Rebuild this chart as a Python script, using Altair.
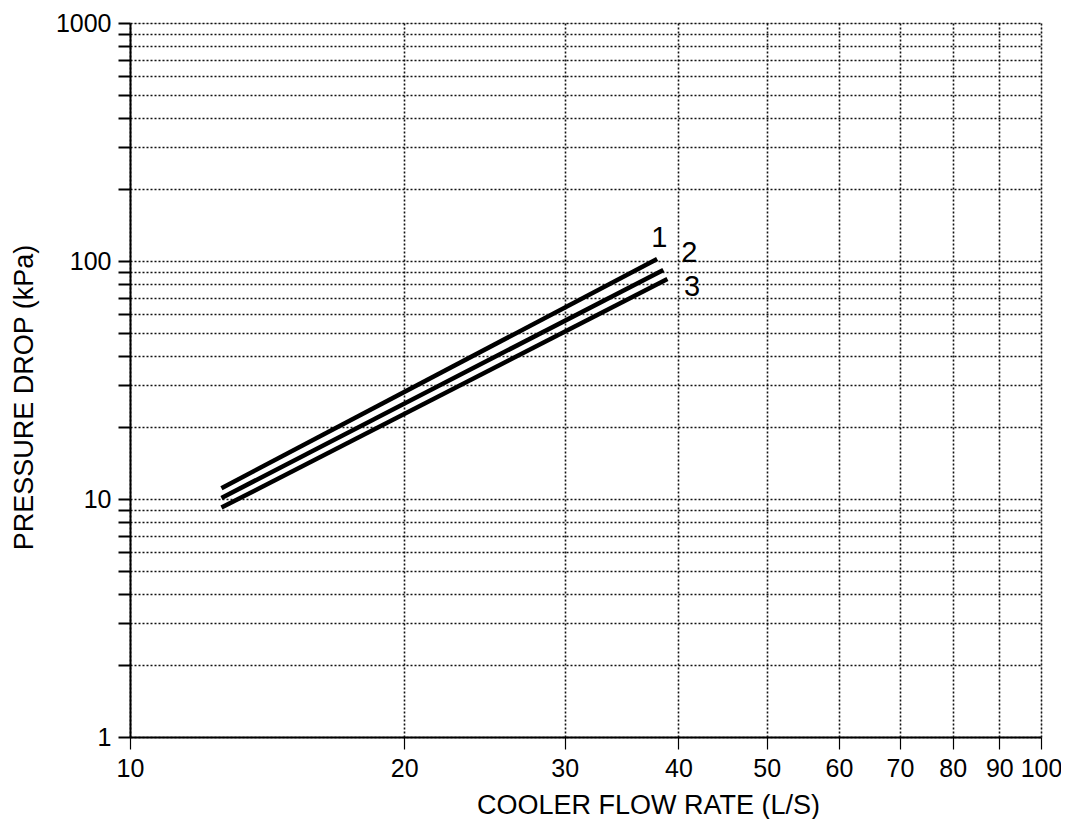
import altair as alt
import pandas as pd

# Series (log-log straight lines)
series = ["1", "2", "3"]
flow_start = [12.6, 12.6, 12.6]
flow_end = [37.9, 38.5, 38.9]
drop_start = [11.1, 10.1, 9.2]
drop_end = [102.0, 91.7, 84.0]

# Curve label positions
label_flow = [38.1, 41.1, 41.4]
label_drop = [125.0, 108.0, 77.8]

x_ticks = [10, 20, 30, 40, 50, 60, 70, 80, 90, 100]
y_ticks = [1, 2, 3, 4, 5, 6, 7, 8, 9,
           10, 20, 30, 40, 50, 60, 70, 80, 90,
           100, 200, 300, 400, 500, 600, 700, 800, 900, 1000]
y_labels = [1, 10, 100, 1000]

rows = []
for s, x0, x1, y0, y1 in zip(series, flow_start, flow_end, drop_start, drop_end):
    rows.append({"series": s, "flow": x0, "drop": y0})
    rows.append({"series": s, "flow": x1, "drop": y1})
lines_df = pd.DataFrame(rows)
labels_df = pd.DataFrame({"series": series, "flow": label_flow, "drop": label_drop})

FONT = "Liberation Sans"

xscale = alt.Scale(type="log", domain=[10, 100], nice=False)
yscale = alt.Scale(type="log", domain=[1, 1000], nice=False)

label_expr = "indexof(" + str(y_labels) + ", datum.value) >= 0 ? datum.label : ''"

x_axis = alt.Axis(
    title="COOLER FLOW RATE (L/S)", values=x_ticks, format="d",
    labelFlush=False, labelOverlap=False, labelFontSize=25, labelFont=FONT,
    labelColor="black", labelPadding=7, tickSize=12, tickColor="black", tickWidth=1.2,
    domainColor="black", domainWidth=2,
    grid=True, gridColor="#111", gridDash=[2, 2], gridWidth=1.6,
    titleFont=FONT, titleFontSize=27, titleFontWeight="normal", titleColor="black",
    titleX=518, titleY=68, titleAlign="center", titleBaseline="middle",
)
y_axis = alt.Axis(
    title="PRESSURE DROP (kPa)", values=y_ticks, format="d", labelExpr=label_expr,
    labelFlush=False, labelOverlap=False, labelFontSize=25, labelFont=FONT,
    labelColor="black", labelPadding=7, tickSize=12, tickColor="black", tickWidth=2,
    domainColor="black", domainWidth=2,
    grid=True, gridColor="#111", gridDash=[2, 2], gridWidth=1.6,
    titleFont=FONT, titleFontSize=27, titleFontWeight="normal", titleColor="black",
    titleX=-106, titleY=374, titleAlign="center", titleBaseline="middle", titleAngle=-90,
)

lines = alt.Chart(lines_df).mark_line(color="black", strokeWidth=4.5).encode(
    x=alt.X("flow:Q", scale=xscale, axis=x_axis),
    y=alt.Y("drop:Q", scale=yscale, axis=y_axis),
    detail="series:N",
)

texts = alt.Chart(labels_df).mark_text(
    font=FONT, fontSize=29, color="black", align="center", baseline="middle"
).encode(
    x=alt.X("flow:Q", scale=xscale),
    y=alt.Y("drop:Q", scale=yscale),
    text="series:N",
)

chart = alt.layer(lines, texts).properties(
    width=911, height=714,
    autosize=alt.AutoSizeParams(type="none"),
    padding={"left": 122, "top": 15, "right": 20, "bottom": 82},
).configure_view(stroke="black", strokeWidth=2).configure(background="white")

chart.save("out.html", embed_options={"renderer": "svg", "actions": False})
